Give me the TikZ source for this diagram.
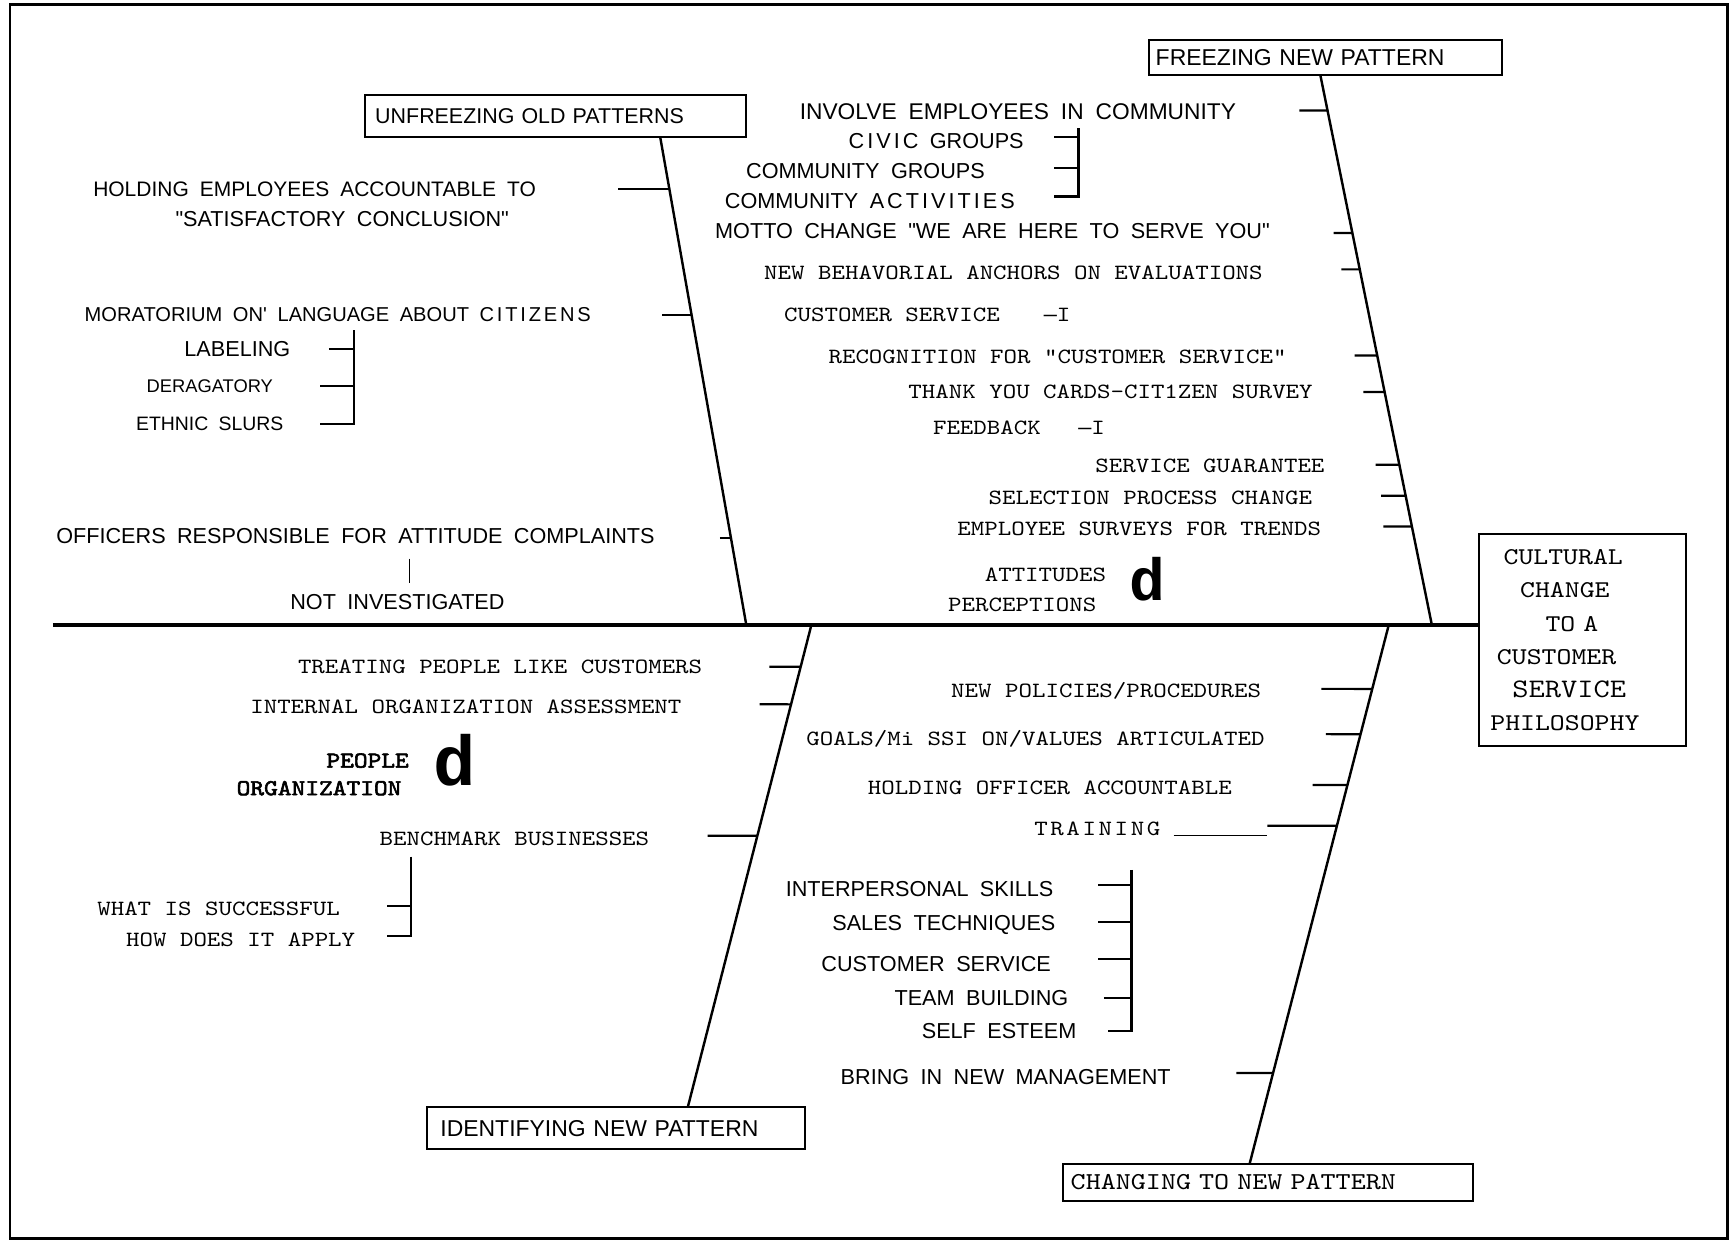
\documentclass[tikz,border=0pt]{standalone}
\usepackage{fontspec}
\setmainfont{Liberation Sans}[WordSpace=1.9]
\setmonofont{Latin Modern Mono}[FakeStretch=1.18]
\newfontfamily\widesans{Liberation Sans}[LetterSpace=14, WordSpace=1.9]
\newfontfamily\widemono{Latin Modern Mono}[FakeStretch=1.18, LetterSpace=12]
\newfontfamily\heavymono{Latin Modern Mono}[FakeStretch=1.15, FakeBold=2.5]
\newfontfamily\bigmono{Liberation Mono}

\begin{document}
\begin{tikzpicture}[x=0.5pt, y=-0.5pt,
    tag/.style={inner sep=0pt, font=\fontsize{9.8}{11}\selectfont},
    note/.style={inner sep=0pt, font=\fontsize{9.85}{12}\selectfont\ttfamily},
    stage/.style={draw, line width=0.9pt, anchor=west, align=left, inner ysep=0pt, font=\fontsize{10.4}{12}\selectfont},
    bigd/.style={inner sep=0pt, font=\fontsize{27}{27}\selectfont\bigmono\bfseries},
    bone/.style={line width=1.1pt},
    tick/.style={line width=1pt}]
  \useasboundingbox (0,0) rectangle (1568,1125);
  \draw[line width=1.3pt] (9,4) rectangle (1565,1122);

  % head and spine
  \node[draw, line width=1pt, text width=93.5pt, minimum height=96pt, align=left, inner sep=0pt,
        font=\fontsize{10.9}{15}\selectfont\ttfamily] (goal) at (1433.5,580)
        {\makebox[0pt][l]{\kern11pt CULTURAL}\\
         \makebox[0pt][l]{\kern18.5pt CHANGE}\\
         \makebox[0pt][l]{\kern30pt TO A}\\
         \makebox[0pt][l]{\kern8pt CUSTOMER}\\
         \makebox[0pt][l]{\kern15pt\fontsize{12.1}{15}\selectfont SERVICE}\\
         \makebox[0pt][l]{\kern5pt PHILOSOPHY}};
  \coordinate (tail) at (48,566);
  \draw[line width=1.6pt] (tail) -- (tail -| goal.west);

  % the four stages
  \node[stage, font=\fontsize{9.7}{11}\selectfont, text width=163.5pt, inner xsep=4.5pt, minimum height=19pt] (unfr) at (330,105) {UNFREEZING OLD PATTERNS};
  \node[stage, text width=154pt, inner xsep=3pt, minimum height=16pt] (frz) at (1040,52) {FREEZING NEW PATTERN};
  \node[stage, text width=159pt, inner xsep=6pt, minimum height=19pt] (ident) at (386,1022) {IDENTIFYING NEW PATTERN};
  \node[stage, font=\fontsize{11}{13}\selectfont\ttfamily, text width=178.5pt, inner xsep=3.5pt, minimum height=17pt] (chg) at (962,1071) {CHANGING TO NEW PATTERN};

  \coordinate (u0) at (598,124);
  \coordinate (u1) at (676,566);
  \coordinate (f0) at (1196,68);
  \coordinate (f1) at (1297,566);
  \coordinate (i0) at (735,566);
  \coordinate (i1) at (623,1003);
  \coordinate (c0) at (1258,566);
  \coordinate (c1) at (1132,1054);
  \draw[bone] (u0) -- (u1);
  \draw[bone] (f0) -- (f1);
  \draw[bone] (i0) -- (i1);
  \draw[bone] (c0) -- (c1);

  % unfreezing old patterns
  \node[tag, font=\fontsize{9.5}{11}\selectfont] (hold) at (285,171) {HOLDING EMPLOYEES ACCOUNTABLE TO};
  \node[tag] (holdb) at (310,198) {\textquotedbl SATISFACTORY CONCLUSION\textquotedbl};
  \node[tag, font=\fontsize{9.1}{11}\selectfont] (morat) at (306,285) {MORATORIUM ON\textquotesingle{} LANGUAGE ABOUT {\widesans CITIZENS}};
  \node[tag] (labl) at (215,316) {LABELING};
  \node[tag, font=\fontsize{8.3}{10}\selectfont] (derag) at (190,350) {DERAGATORY};
  \node[tag, font=\fontsize{8.8}{10}\selectfont] (ethnic) at (190,384) {ETHNIC SLURS};
  \node[tag] (offic) at (322,486) {OFFICERS RESPONSIBLE FOR ATTITUDE COMPLAINTS};
  \node[tag] (notinv) at (360,545) {NOT INVESTIGATED};
  \draw[tick] (560,171) -- (intersection of u0--u1 and 0,171--1,171);
  \draw[tick] (600,285) -- (intersection of u0--u1 and 0,285--1,285);
  \draw[tick] (652,487) -- (intersection of u0--u1 and 0,487--1,487);
  \draw[tick] (321,299) -- (321,384) -- (290,384);
  \draw[tick] (298,316) -- (321,316);
  \draw[tick] (290,350) -- (321,350);
  \draw[line width=0.8pt] (371,506) -- (371,528);

  % freezing new pattern
  \node[tag, font=\fontsize{10.3}{11}\selectfont] (involve) at (922,101) {INVOLVE EMPLOYEES IN COMMUNITY};
  \node[tag] (civic) at (848,128) {{\widesans CIVIC} GROUPS};
  \node[tag] (commgrp) at (784,155) {COMMUNITY GROUPS};
  \node[tag] (commact) at (788,182) {COMMUNITY {\widesans ACTIVITIES}};
  \node[tag] (motto) at (899,209) {MOTTO CHANGE \textquotedbl WE ARE HERE TO SERVE YOU\textquotedbl};
  \node[note] (behav) at (918,247) {NEW BEHAVORIAL ANCHORS ON EVALUATIONS};
  \node[note] (custsvc) at (840,285) {CUSTOMER SERVICE\hspace{20pt}{\bigmono\textemdash}I};
  \node[note] (recog) at (958,323) {RECOGNITION FOR "CUSTOMER SERVICE"};
  \node[note] (thank) at (1006,355) {THANK YOU CARDS-CIT1ZEN SURVEY};
  \node[note] (feedb) at (923,388) {FEEDBACK\hspace{17pt}{\bigmono\textemdash}I};
  \node[note] (guar) at (1096,422) {SERVICE GUARANTEE};
  \node[note] (select) at (1042,451) {SELECTION PROCESS CHANGE};
  \node[note] (empsurv) at (1032,479) {EMPLOYEE SURVEYS FOR TRENDS};
  \node[note] (attit) at (947,521) {ATTITUDES};
  \node[note] (percep) at (926,548) {PERCEPTIONS};
  \node[bigd] (dfrz) at (1039,525) {d};
  \draw[tick] (1177,100) -- (intersection of f0--f1 and 0,100--1,100);
  \draw[tick] (1208,211) -- (intersection of f0--f1 and 0,211--1,211);
  \draw[tick] (1215,244) -- (intersection of f0--f1 and 0,244--1,244);
  \draw[tick] (1227,322) -- (intersection of f0--f1 and 0,322--1,322);
  \draw[tick] (1235,355) -- (intersection of f0--f1 and 0,355--1,355);
  \draw[tick] (1246,421) -- (intersection of f0--f1 and 0,421--1,421);
  \draw[tick] (1251,449) -- (intersection of f0--f1 and 0,449--1,449);
  \draw[tick] (1253,477) -- (intersection of f0--f1 and 0,477--1,477);
  \draw[tick] (977,116) -- (977,178) -- (955,178);
  \draw[tick] (955,124) -- (977,124);
  \draw[tick] (955,152) -- (977,152);

  % identifying new pattern
  \node[note] (treat) at (453,604) {TREATING PEOPLE LIKE CUSTOMERS};
  \node[note] (intern) at (422,640) {INTERNAL ORGANIZATION ASSESSMENT};
  \node[note, font=\fontsize{10.3}{12}\selectfont\heavymono] (people) at (333,689) {PEOPLE};
  \node[note, font=\fontsize{10.3}{12}\selectfont\heavymono] (orgn) at (289,714) {ORGANIZATION};
  \node[bigd, font=\fontsize{32}{32}\selectfont\bigmono\bfseries] (dident) at (412,689) {d};
  \node[note] (bench) at (466,760) {BENCHMARK BUSINESSES};
  \node[note] (whatis) at (198,823) {WHAT IS SUCCESSFUL};
  \node[note] (howdo) at (218,851) {HOW DOES IT APPLY};
  \draw[tick] (697,604) -- (intersection of i0--i1 and 0,604--1,604);
  \draw[tick] (688,638) -- (intersection of i0--i1 and 0,638--1,638);
  \draw[tick] (641,757) -- (intersection of i0--i1 and 0,757--1,757);
  \draw[tick] (372,776) -- (372,848) -- (351,848);
  \draw[tick] (351,821) -- (372,821);

  % changing to new pattern
  \node[note] (newpol) at (1002,626) {NEW POLICIES/PROCEDURES};
  \node[note] (goals) at (938,669) {GOALS/Mi SSI ON/VALUES ARTICULATED};
  \node[note] (holdoff) at (951,714) {HOLDING OFFICER ACCOUNTABLE};
  \node[note, font=\fontsize{9.85}{12}\selectfont\widemono] (train) at (994,751) {TRAINING};
  \node[tag] (interp) at (833,805) {INTERPERSONAL SKILLS};
  \node[tag] (sales) at (855,838) {SALES TECHNIQUES};
  \node[tag] (custs) at (848,873) {CUSTOMER SERVICE};
  \node[tag] (team) at (889,904) {TEAM BUILDING};
  \node[tag] (selfe) at (905,934) {SELF ESTEEM};
  \node[tag] (bring) at (911,976) {BRING IN NEW MANAGEMENT};
  \draw[tick] (1197,624) -- (intersection of c0--c1 and 0,624--1,624);
  \draw[tick] (1201,665) -- (intersection of c0--c1 and 0,665--1,665);
  \draw[tick] (1189,711) -- (intersection of c0--c1 and 0,711--1,711);
  \draw[tick] (1148,748) -- (intersection of c0--c1 and 0,748--1,748);
  \draw[tick] (1120,972) -- (intersection of c0--c1 and 0,972--1,972);
  \draw[line width=0.5pt] (1063,757) -- (1148,757);
  \draw[tick] (1025,788) -- (1025,934) -- (1004,934);
  \draw[tick] (995,802) -- (1025,802);
  \draw[tick] (995,835) -- (1025,835);
  \draw[tick] (995,869) -- (1025,869);
  \draw[tick] (1000,904) -- (1025,904);
\end{tikzpicture}
\end{document}
